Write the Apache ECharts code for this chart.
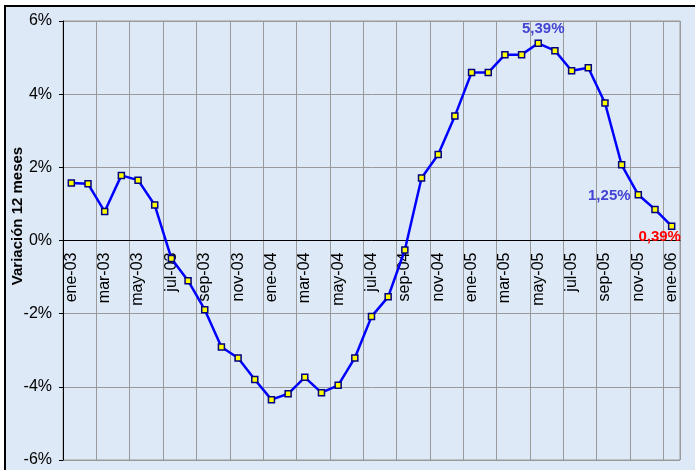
<!DOCTYPE html>
<html>
<head>
<meta charset="utf-8">
<script src="https://cdn.jsdelivr.net/npm/echarts@6/dist/echarts.min.js"></script>
<style>
  html, body { margin: 0; padding: 0; background: #fff; }
  #chart { width: 695px; height: 470px; }
</style>
</head>
<body>
<div id="chart"></div>
<script>
// categories: monthly, ene-03 .. ene-06
const months = ["ene", "feb", "mar", "abr", "may", "jun", "jul", "ago", "sep", "oct", "nov", "dic"];
const categories = [];
["03", "04", "05"].forEach((y) => months.forEach((m) => categories.push(m + "-" + y)));
categories.push("ene-06");

// variación 12 meses (%)
const values = [
  1.57, 1.55, 0.79, 1.78, 1.65, 0.97, -0.49, -1.10, -1.89, -2.91, -3.21, -3.80,
  -4.35, -4.19, -3.74, -4.16, -3.96, -3.21, -2.08, -1.54, -0.26, 1.71, 2.35, 3.40,
  4.59, 4.59, 5.08, 5.08, 5.39, 5.19, 4.64, 4.72, 3.76, 2.07, 1.25, 0.85,
  0.39,
];
const yTicks = [-6, -4, -2, 0, 2, 4, 6];
const labelled = ["may-05", "nov-05", "ene-06"];

const font = "'Liberation Sans', Arial, sans-serif";
const bg = "#dde9f6";

const gridTop = 21;
const gridBottom = 10;
const chartH = 470;
const plotH = chartH - gridTop - gridBottom;
// move the labelled x axis up to the 0% line
const zeroOffset = -plotH * (0 - yTicks[0]) / (yTicks[yTicks.length - 1] - yTicks[0]);

// label styles for highlighted points
const labelStyle = {
  "may-05": { position: "top", distance: 3, color: "#4343d4", offset: [5, 0] },
  "nov-05": { position: "left", distance: 6, color: "#4343d4", offset: [2, 1] },
  "ene-06": { position: "bottom", distance: 2, color: "#ff0000", offset: [-12, -3] },
};

const seriesData = values.map((v, i) => {
  const c = categories[i];
  if (labelled.indexOf(c) < 0) return v;
  const s = labelStyle[c];
  return {
    value: v,
    label: {
      show: true,
      position: s.position,
      distance: s.distance,
      offset: s.offset,
      color: s.color,
      fontFamily: font,
      fontWeight: "bold",
      fontSize: 15,
      formatter: (p) => p.value.toFixed(2).replace(".", ",") + "%",
    },
  };
});

const chart = echarts.init(document.getElementById("chart"));
chart.setOption({
  animation: false,
  backgroundColor: "#ffffff",
  graphic: [
    {
      type: "rect",
      z: -10,
      shape: { x: 5, y: 6, width: 700, height: 480 },
      style: { fill: bg, stroke: "#000", lineWidth: 2 },
    },
    {
      type: "text",
      x: 18,
      y: 216,
      rotation: Math.PI / 2,
      style: {
        text: "Variación 12 meses",
        fill: "#000",
        font: "bold 15px " + font,
        align: "center",
        verticalAlign: "middle",
      },
    },
  ],
  grid: {
    left: 63,
    right: 15,
    top: gridTop,
    bottom: gridBottom,
    containLabel: false,
    outerBoundsMode: "none",
    show: true,
    backgroundColor: bg,
    borderColor: "#9a9a9a",
    borderWidth: 1,
  },
  xAxis: {
    type: "category",
    data: categories,
    boundaryGap: true,
    position: "bottom",
    offset: zeroOffset,
    axisLine: { onZero: false, lineStyle: { color: "#000", width: 1 } },
    axisTick: { show: false },
    axisLabel: {
      interval: 1,
      rotate: 90,
      margin: 12,
      color: "#000",
      fontFamily: font,
      fontSize: 16,
    },
    splitLine: { show: true, interval: 1, lineStyle: { color: "#9a9a9a", width: 1 } },
  },
  yAxis: {
    type: "value",
    min: yTicks[0],
    max: yTicks[yTicks.length - 1],
    interval: 2,
    axisLine: { show: true, onZero: false, lineStyle: { color: "#000", width: 1 } },
    axisTick: { show: true, length: 4, lineStyle: { color: "#000" } },
    axisLabel: {
      margin: 11,
      color: "#000",
      fontFamily: font,
      fontSize: 16,
      formatter: (v) => v + "%",
    },
    splitLine: { show: true, lineStyle: { color: "#9a9a9a", width: 1 } },
  },
  series: [
    {
      type: "line",
      data: seriesData,
      symbol: "rect",
      symbolSize: 6,
      showAllSymbol: true,
      lineStyle: { color: "#0000ff", width: 2.5 },
      itemStyle: { color: "#ffff00", borderColor: "#000080", borderWidth: 1.5 },
      z: 5,
    },
  ],
});
</script>
</body>
</html>
